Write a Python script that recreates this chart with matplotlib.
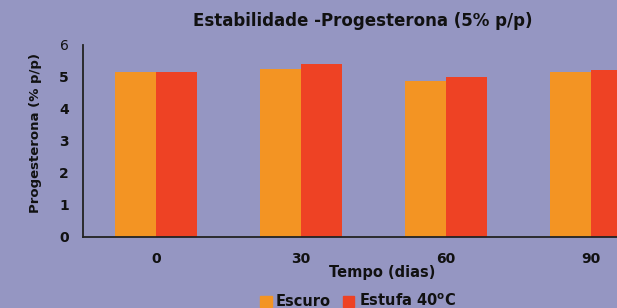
import numpy as np
import matplotlib.pyplot as plt
from matplotlib.patches import Patch

# data
dias = ['0', '30', '60', '90']
escuro = [5.15, 5.24, 4.88, 5.15]
estufa = [5.15, 5.41, 4.99, 5.22]

bg = '#9596c2'
c_escuro = '#f39423'
c_estufa = '#ee4224'

fig = plt.figure(figsize=(6.17, 3.08), dpi=100, facecolor=bg)
# axes runs off the right edge like the cropped original
x0, x1 = -0.503, 3.5
ax = fig.add_axes([83/617, 71/308, (x1 - x0) * 145/617, 192/308])
ax.set_facecolor(bg)

x = np.arange(len(dias))
w = 0.283
ax.bar(x - w/2, escuro, w, color=c_escuro)
ax.bar(x + w/2, estufa, w, color=c_estufa)

ax.set_xlim(x0, x1)
ax.set_ylim(0, 6)
ax.set_xticks(x)
ax.set_xticklabels(dias)
ax.set_yticks(range(7))
for s in ['top', 'right']:
    ax.spines[s].set_visible(False)
for s in ['left', 'bottom']:
    ax.spines[s].set_color('#222222')
    ax.spines[s].set_linewidth(1.3)
ax.tick_params(axis='x', length=0, pad=11, labelsize=10)
ax.tick_params(axis='y', length=0, pad=10, labelsize=10)
for t in ax.get_xticklabels() + ax.get_yticklabels():
    t.set_fontweight('bold')
    t.set_color('#111111')
# top tick label is drawn thin in the original
ax.get_yticklabels()[-1].set_fontweight('normal')

fig.text(363/617, 1 - 21/308, 'Estabilidade -Progesterona (5% p/p)', ha='center', va='center',
         fontsize=12, fontweight='bold', color='#111111')
fig.text(36/617, 1 - 133/308, 'Progesterona (% p/p)', rotation=90, ha='center', va='center',
         fontsize=9.5, fontweight='bold', color='#111111')
fig.text(382/617, 1 - 273/308, 'Tempo (dias)', ha='center', va='center',
         fontsize=10.5, fontweight='bold', color='#111111')

handles = [Patch(color=c_escuro, label='Escuro'), Patch(color=c_estufa, label='Estufa 40$^{\\mathregular{o}}$C')]
leg = fig.legend(handles=handles, loc='center', bbox_to_anchor=(358/617, 1 - 301/308), ncol=2,
                 frameon=False, handlelength=0.8, handleheight=0.8, handletextpad=0.3,
                 columnspacing=0.8, prop={'size': 10.5, 'weight': 'bold'})
for t in leg.get_texts():
    t.set_color('#111111')

fig.savefig('out.png', dpi=100, facecolor=bg)
